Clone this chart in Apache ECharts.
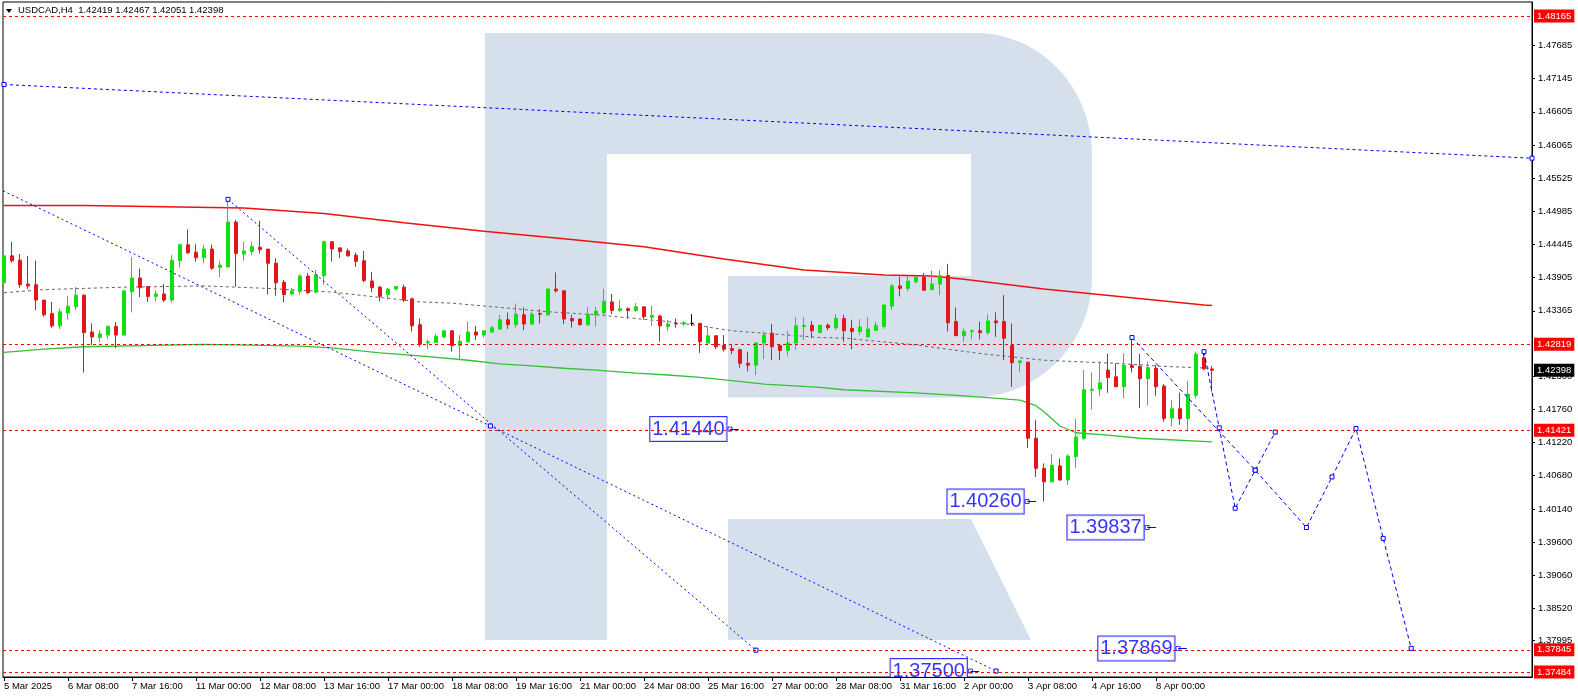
<!DOCTYPE html>
<html><head><meta charset="utf-8">
<script src="https://cdn.jsdelivr.net/npm/echarts@6/dist/echarts.min.js"></script>
<style>html,body{margin:0;padding:0;background:#fff}#c{width:1578px;height:698px}</style>
</head><body><div id="c"></div>
<script>
// ---------- data ----------
const symbolName = 'USDCAD,H4';
const xTickLabels = ['5 Mar 2025','6 Mar 08:00','7 Mar 16:00','11 Mar 00:00','12 Mar 08:00','13 Mar 16:00','17 Mar 00:00','18 Mar 08:00','19 Mar 16:00','21 Mar 00:00','24 Mar 08:00','25 Mar 16:00','27 Mar 00:00','28 Mar 08:00','31 Mar 16:00','2 Apr 00:00','3 Apr 08:00','4 Apr 16:00','8 Apr 00:00'];
const barsPerLabel = 8;
const yTicks = [1.47685,1.47145,1.46605,1.46065,1.45525,1.44985,1.44445,1.43905,1.43365,1.42300,1.41760,1.41220,1.40680,1.40140,1.39600,1.39060,1.38520,1.37995];
const levelLines = [1.48165,1.42819,1.41421,1.37845,1.37484];

const open = [1.4382,1.4426,1.4419,1.4380,1.4379,1.4354,1.4332,1.4312,1.4333,1.4343,1.4362,1.4302,1.4293,1.4297,1.4311,1.4297,1.4368,1.4390,1.4376,1.4360,1.4364,1.4354,1.4418,1.4444,1.4432,1.4423,1.4437,1.4407,1.4408,1.4481,1.4429,1.4433,1.4440,1.4437,1.4414,1.4383,1.4364,1.4368,1.4393,1.4367,1.4394,1.4449,1.4439,1.4434,1.4427,1.4418,1.4385,1.4375,1.4363,1.4372,1.4375,1.4356,1.4314,1.4284,1.4285,1.4294,1.4304,1.4280,1.4286,1.4302,1.4297,1.4302,1.4307,1.4322,1.4314,1.4330,1.4315,1.4332,1.4330,1.4372,1.4369,1.4324,1.4323,1.4314,1.4330,1.4333,1.4351,1.4337,1.4340,1.4337,1.4343,1.4326,1.4328,1.4311,1.4316,1.4315,1.4316,1.4316,1.4284,1.4296,1.4280,1.4275,1.4273,1.4251,1.4248,1.4284,1.4300,1.4280,1.4272,1.4284,1.4311,1.4313,1.4301,1.4313,1.4309,1.4324,1.4308,1.4303,1.4294,1.4305,1.4311,1.4344,1.4377,1.4373,1.4384,1.4391,1.4371,1.4380,1.4394,1.4319,1.4296,1.4303,1.4304,1.4301,1.4320,1.4319,1.4280,1.4252,1.4253,1.4129,1.4080,1.4058,1.4084,1.4061,1.4099,1.4129,1.4207,1.4209,1.4240,1.4229,1.4213,1.4248,1.4246,1.4226,1.4243,1.4214,1.4162,1.4177,1.4161,1.4199,1.4260,1.42419];
const high = [1.4439,1.4449,1.4429,1.4426,1.4418,1.4354,1.4351,1.4340,1.4361,1.4375,1.4363,1.4316,1.4305,1.4313,1.4318,1.4369,1.4424,1.4405,1.4376,1.4369,1.4380,1.4427,1.4446,1.4469,1.4445,1.4444,1.4444,1.4418,1.4518,1.4484,1.4449,1.4449,1.4483,1.4437,1.4422,1.4387,1.4374,1.4396,1.4398,1.4403,1.4451,1.4449,1.4439,1.4438,1.4431,1.4434,1.4400,1.4377,1.4374,1.4377,1.4379,1.4358,1.4324,1.4290,1.4299,1.4305,1.4305,1.4297,1.4319,1.4312,1.4305,1.4312,1.4330,1.4334,1.4348,1.4342,1.4335,1.4339,1.4374,1.4399,1.4370,1.4330,1.4324,1.4343,1.4343,1.4372,1.4364,1.4354,1.4342,1.4349,1.4343,1.4345,1.4330,1.4322,1.4324,1.4320,1.4331,1.4317,1.4312,1.4296,1.4297,1.4281,1.4275,1.4270,1.4286,1.4303,1.4315,1.4282,1.4304,1.4326,1.4326,1.4320,1.4313,1.4316,1.4331,1.4330,1.4322,1.4323,1.4326,1.4319,1.4347,1.4380,1.4392,1.4393,1.4393,1.4398,1.4402,1.4403,1.4413,1.4342,1.4308,1.4306,1.4319,1.4331,1.4334,1.4362,1.4316,1.4256,1.4253,1.4159,1.4088,1.4103,1.4096,1.4103,1.4161,1.4240,1.4236,1.4254,1.4267,1.4251,1.4267,1.4293,1.4266,1.4254,1.4248,1.4217,1.4191,1.4203,1.4222,1.4270,1.4270,1.42467];
const low = [1.4380,1.4415,1.4374,1.4372,1.4338,1.4327,1.4309,1.4307,1.4322,1.4338,1.4236,1.4281,1.4285,1.4291,1.4276,1.4296,1.4334,1.4359,1.4351,1.4352,1.4351,1.4350,1.4407,1.4429,1.4417,1.4414,1.4403,1.4391,1.4407,1.4376,1.4418,1.4427,1.4430,1.4363,1.4361,1.4350,1.4362,1.4363,1.4364,1.4365,1.4379,1.4417,1.4422,1.4425,1.4408,1.4383,1.4367,1.4352,1.4355,1.4370,1.4351,1.4303,1.4278,1.4274,1.4284,1.4292,1.4270,1.4258,1.4285,1.4289,1.4293,1.4301,1.4305,1.4307,1.4309,1.4305,1.4313,1.4316,1.4328,1.4366,1.4315,1.4309,1.4312,1.4312,1.4311,1.4328,1.4331,1.4335,1.4324,1.4335,1.4322,1.4312,1.4286,1.4304,1.4309,1.4312,1.4312,1.4268,1.4283,1.4274,1.4270,1.4266,1.4244,1.4238,1.4232,1.4258,1.4256,1.4256,1.4262,1.4273,1.4289,1.4292,1.4300,1.4305,1.4305,1.4286,1.4274,1.4297,1.4293,1.4304,1.4307,1.4338,1.4360,1.4368,1.4381,1.4369,1.4370,1.4362,1.4303,1.4296,1.4286,1.4290,1.4290,1.4297,1.4294,1.4256,1.4213,1.4236,1.4113,1.4066,1.4026,1.4057,1.4060,1.4053,1.4080,1.4126,1.4176,1.4198,1.4203,1.4212,1.4194,1.4236,1.4178,1.4182,1.4198,1.4156,1.4148,1.4151,1.4140,1.4194,1.4240,1.42051];
const close = [1.4426,1.4418,1.4379,1.4377,1.4354,1.4330,1.4312,1.4335,1.4344,1.4362,1.4301,1.4294,1.4299,1.4311,1.4297,1.4369,1.4390,1.4374,1.4360,1.4364,1.4354,1.4419,1.4444,1.4431,1.4423,1.4437,1.4406,1.4411,1.4481,1.4430,1.4434,1.4441,1.4436,1.4414,1.4382,1.4363,1.4369,1.4393,1.4366,1.4395,1.4449,1.4437,1.4433,1.4426,1.4417,1.4386,1.4374,1.4360,1.4372,1.4376,1.4354,1.4312,1.4282,1.4286,1.4295,1.4304,1.4280,1.4287,1.4302,1.4297,1.4304,1.4309,1.4322,1.4314,1.4331,1.4315,1.4331,1.4331,1.4372,1.4369,1.4323,1.4320,1.4314,1.4331,1.4336,1.4352,1.4337,1.4340,1.4337,1.4343,1.4327,1.4329,1.4312,1.4315,1.4315,1.4317,1.4316,1.4286,1.4296,1.4278,1.4274,1.4272,1.4251,1.4248,1.4284,1.4297,1.4278,1.4272,1.4284,1.4312,1.4313,1.4304,1.4313,1.4309,1.4324,1.4304,1.4303,1.4310,1.4307,1.4313,1.4346,1.4377,1.4373,1.4385,1.4391,1.4370,1.4380,1.4394,1.4317,1.4296,1.4303,1.4304,1.4301,1.4320,1.4317,1.4292,1.4252,1.4255,1.4129,1.4080,1.4058,1.4085,1.4061,1.4100,1.4131,1.4208,1.4209,1.4219,1.4228,1.4213,1.4248,1.4244,1.4226,1.4244,1.4213,1.4161,1.4177,1.4161,1.4201,1.4266,1.4242,1.42398];

// moving averages (bar index, value)
const redMaBars = [0,10,20,30,40,50,60,70,80,90,100,110,116,120,130,140,150,151];
const redMaVals = [1.4508,1.4508,1.4506,1.4504,1.4495,1.4480,1.4466,1.4454,1.4441,1.4421,1.4403,1.4395,1.4393,1.4388,1.4372,1.4359,1.4346,1.4345];
const grayMaBars = [0,5,15,25,33,41,52,56,62,68,74,83,87,91,95,102,105,114,122,130,139,145,151];
const grayMaVals = [1.4366,1.4371,1.4375,1.4377,1.4373,1.4367,1.4351,1.4349,1.4342,1.4335,1.4330,1.4319,1.4312,1.4304,1.4300,1.4293,1.4292,1.4281,1.4267,1.4256,1.4251,1.4246,1.4243];
const greenMaBars = [0,5,10,25,29,37,41,47,52,58,62,66,70,74,79,83,87,91,95,102,105,114,120,127,129,130,132,134,138,142,151];
const greenMaVals = [1.4269,1.4274,1.4278,1.4282,1.4281,1.4279,1.4276,1.4268,1.4263,1.4256,1.4250,1.4247,1.4243,1.4240,1.4235,1.4232,1.4228,1.4223,1.4217,1.4212,1.4208,1.4203,1.4198,1.4191,1.4182,1.4172,1.4149,1.4138,1.4134,1.4129,1.4123];

// drawn trend lines (bar index, price)
const lineC = [[0,1.4705],[191,1.4585]];
const lineD1 = [[-0.125,1.4532],[60.8,1.4149],[124,1.3750]];
const lineD2 = [[28,1.4518],[94,1.3784]];
const forecastA = [[141,1.4293],[156.4,1.4077],[162.8,1.39837],[166,1.4066],[169,1.4145],[172.4,1.3966],[175.9,1.37869]];
const forecastB = [[150,1.4270],[151.9,1.4146],[153.9,1.4015],[156.4,1.4077],[158.9,1.4139]];

// price labels (anchor bar, price)
const priceLabelBars = [90.75,127.9,142.9,146.75,120.8];
const priceLabelVals = [1.41440,1.40260,1.39837,1.37869,1.37500];

// ---------- chart ----------
const UP = '#10e010', DOWN = '#e3161c', BLUE = '#0000ff';
const FONT = 'Liberation Sans, Arial, sans-serif';
const n = open.length;
const last = n - 1;
const candleData = open.map((o, i) => {
  const v = [i, o, close[i], low[i], high[i]];
  return o === close[i] ? { value: v, itemStyle: { color: '#000', borderColor: '#000', color0: '#000', borderColor0: '#000' } } : v;
});
const xTickIdx = xTickLabels.map((_, k) => k * barsPerLabel);
const pair = (bars, vals) => bars.map((b, i) => [b, vals[i]]);

// watermark logo outline (pixel space, decoration only)
function arcPts(cx, cy, rx, ry, a0, a1, steps) {
  const pts = [];
  for (let k = 0; k <= steps; k++) {
    const a = (a0 + (a1 - a0) * k / steps) * Math.PI / 180;
    pts.push([cx + rx * Math.cos(a), cy + ry * Math.sin(a)]);
  }
  return pts;
}
const logoOuter = [[485, 33]]
  .concat(arcPts(976, 155, 116, 122, -90, 0, 24))
  .concat(arcPts(972, 277, 120, 120.5, 0, 90, 24))
  .concat([[728, 397.5], [728, 276], [971, 276], [971, 154], [607, 154], [607, 640], [485, 640]]);
const logoLeg = [[728, 519], [971, 519], [1031, 640], [728, 640]];

function trend(data, dash, noFirstSymbol) {
  return {
    type: 'line', data: data.map((d, i) => (noFirstSymbol && i === 0) ? { value: d, symbol: 'none' } : d),
    symbol: 'rect', symbolSize: 4, showSymbol: true, silent: true,
    itemStyle: { color: '#fff', borderColor: BLUE, borderWidth: 1 },
    lineStyle: { color: BLUE, width: 1, type: dash }, z: 4
  };
}

const chart = echarts.init(document.getElementById('c'), null, { renderer: 'canvas' });
const option = {
  animation: false,
  backgroundColor: '#fff',
  grid: { left: 3, right: 46, top: 2, bottom: 21, show: true, borderColor: '#000', borderWidth: 1, backgroundColor: 'transparent' },
  xAxis: {
    type: 'value', min: -0.125, max: 191, z: 10,
    axisLine: { show: true, onZero: false, lineStyle: { color: '#000', width: 1 } },
    axisTick: { show: true, customValues: xTickIdx, length: 4, lineStyle: { color: '#000' } },
    axisLabel: { customValues: xTickIdx, formatter: v => xTickLabels[Math.round(v / barsPerLabel)] || '', align: 'left', margin: 4, color: '#000', fontSize: 9.5, fontFamily: FONT },
    splitLine: { show: false }
  },
  yAxis: {
    type: 'value', position: 'right', min: 1.37403, max: 1.48393,
    axisLine: { show: true, onZero: false, lineStyle: { color: '#000', width: 1 } },
    axisTick: { show: true, customValues: yTicks, length: 3, lineStyle: { color: '#000' } },
    axisLabel: { customValues: yTicks, formatter: v => v.toFixed(5), color: '#000', fontSize: 9.5, fontFamily: FONT, margin: 6 },
    splitLine: { show: false }
  },
  graphic: [
    { type: 'polygon', z: -1, silent: true, shape: { points: logoOuter }, style: { fill: '#d6e0ec' } },
    { type: 'polygon', z: -1, silent: true, shape: { points: logoLeg }, style: { fill: '#d6e0ec' } },
    { type: 'rect', z: 5, silent: true, shape: { x: 0, y: 677.6, width: 1532, height: 21 }, style: { fill: '#fff' } },
    { type: 'polygon', z: 6, silent: true, shape: { points: [[6, 9], [12, 9], [9, 13]] }, style: { fill: '#000' } },
    { type: 'text', z: 6, silent: true, left: 18, top: 5,
      style: { text: symbolName + '  ' + [open[last], high[last], low[last], close[last]].map(v => v.toFixed(5)).join(' '), font: '9.5px ' + FONT, fill: '#000' } }
  ],
  series: [
    { type: 'line', data: pair(redMaBars, redMaVals), showSymbol: false, silent: true, lineStyle: { color: '#f01010', width: 1.5 }, z: 1 },
    {
      type: 'line', data: pair(grayMaBars, grayMaVals), showSymbol: false, silent: true, lineStyle: { color: '#666666', width: 1, type: [3, 3] }, z: 1,
      markLine: {
        symbol: 'none', silent: true, animation: false, precision: 5,
        lineStyle: { color: '#ff0000', type: [3, 3], width: 1 },
        label: { show: true, position: 'end', distance: 2, color: '#fff', backgroundColor: '#ff0000', fontSize: 9.5, fontFamily: FONT, padding: [2, 3, 1, 3] },
        data: levelLines.map(v => ({ yAxis: v, label: { formatter: v.toFixed(5) } })).concat([
          { yAxis: close[last], lineStyle: { color: 'rgba(0,0,0,0)', width: 0 }, label: { formatter: close[last].toFixed(5), backgroundColor: '#000', color: '#fff', opacity: 1 } }
        ])
      }
    },
    { type: 'line', data: pair(greenMaBars, greenMaVals), showSymbol: false, silent: true, lineStyle: { color: '#36c036', width: 1.3 }, z: 1 },
    {
      type: 'candlestick', data: candleData, encode: { x: 0, y: [1, 2, 3, 4] }, barWidth: 4, silent: true, z: 3,
      itemStyle: { color: UP, color0: DOWN, borderColor: UP, borderColor0: DOWN, borderWidth: 1 }
    },
    trend(lineC, [3, 3]),
    trend(lineD1, [2, 3], true),
    trend(lineD2, [2, 3]),
    trend(forecastA, [4, 3]),
    trend(forecastB, [4, 3]),
    {
      type: 'scatter', data: pair(priceLabelBars, priceLabelVals), symbol: 'rect', symbolSize: 4, silent: true, z: 4,
      itemStyle: { color: '#fff', borderColor: BLUE, borderWidth: 1 },
      label: { show: true, position: 'left', distance: 1, formatter: p => p.value[1].toFixed(5), color: BLUE, fontSize: 20, fontFamily: FONT, lineHeight: 22,
        backgroundColor: '#fff', borderColor: BLUE, borderWidth: 1, padding: [2, 2, 0, 2] },
      markLine: {
        symbol: 'none', silent: true, animation: false, label: { show: false },
        lineStyle: { color: BLUE, width: 1, type: 'solid' },
        data: priceLabelBars.map((b, i) => [{ coord: [b, priceLabelVals[i]] }, { coord: [b + 1.1, priceLabelVals[i]] }])
      }
    }
  ]
};
chart.setOption(option);
</script>
</body></html>
